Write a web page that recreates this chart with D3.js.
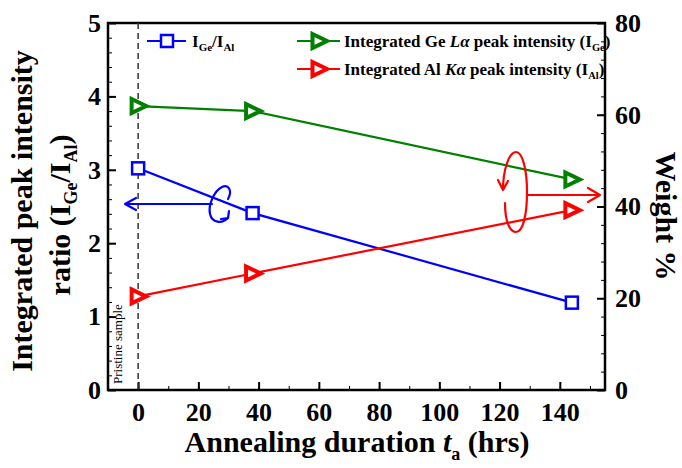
<!DOCTYPE html>
<html>
<head>
<meta charset="utf-8" />
<title>Annealing duration chart</title>
<style>
  body { margin: 0; background: white; }
  svg text { font-family: "Liberation Serif", "Times New Roman", serif; }
  .tick text { font-weight: bold; font-size: 26px; }
  .axis path, .axis line { stroke: black; }
</style>
</head>
<body>
<svg id="chart" width="682" height="468"></svg>
<script src="https://d3js.org/d3.v7.min.js"></script>
<script>
  // values
  const hours = [0, 38, 144];
  const ratioGeAl = [3.02, 2.41, 1.19];
  const geWeight = [61.9, 60.8, 45.9];
  const alWeight = [20.4, 25.4, 39.2];

  const xTicks = [0, 20, 40, 60, 80, 100, 120, 140];
  const leftTicks = [0, 1, 2, 3, 4, 5];
  const rightTicks = [0, 20, 40, 60, 80];

  const blue = "#0000ff", green = "#008000", red = "#ff0000";

  const svg = d3.select("#chart");
  const pLeft = 108, pRight = 605, pTop = 23, pBottom = 390;

  const x = d3.scaleLinear().domain([-10, 155]).range([pLeft, pRight]);
  const yL = d3.scaleLinear().domain([0, 5]).range([pBottom, pTop]);
  const yR = d3.scaleLinear().domain([0, 80]).range([pBottom, pTop]);

  // minor ticks first, no labels
  svg.append("g").attr("class", "axis").attr("transform", `translate(0,${pBottom})`)
    .call(d3.axisBottom(x).tickValues(d3.range(-10, 156, 10)).tickSize(-4).tickFormat(""))
    .call(g => g.select(".domain").remove());
  svg.append("g").attr("class", "axis").attr("transform", `translate(${pLeft},0)`)
    .call(d3.axisLeft(yL).tickValues(d3.range(0, 5.01, 0.2)).tickSize(-4).tickFormat(""))
    .call(g => g.select(".domain").remove());
  svg.append("g").attr("class", "axis").attr("transform", `translate(${pRight},0)`)
    .call(d3.axisRight(yR).tickValues(d3.range(0, 80.1, 4)).tickSize(-4).tickFormat(""))
    .call(g => g.select(".domain").remove());

  // major ticks
  svg.append("g").attr("class", "axis").attr("transform", `translate(0,${pBottom})`)
    .call(d3.axisBottom(x).tickValues(xTicks).tickSize(-8).tickPadding(13))
    .call(g => g.select(".domain").remove())
    .selectAll("line").attr("stroke-width", 2);
  svg.append("g").attr("class", "axis").attr("transform", `translate(${pLeft},0)`)
    .call(d3.axisLeft(yL).tickValues(leftTicks).tickSize(-8).tickPadding(7).tickFormat(d3.format("d")))
    .call(g => g.select(".domain").remove())
    .selectAll("line").attr("stroke-width", 2);
  svg.append("g").attr("class", "axis").attr("transform", `translate(${pRight},0)`)
    .call(d3.axisRight(yR).tickValues(rightTicks).tickSize(-8).tickPadding(10))
    .call(g => g.select(".domain").remove())
    .selectAll("line").attr("stroke-width", 2);

  svg.selectAll(".tick text").attr("fill", "black");

  // plot frame
  svg.append("rect")
    .attr("x", pLeft).attr("y", pTop)
    .attr("width", pRight - pLeft).attr("height", pBottom - pTop)
    .attr("fill", "none").attr("stroke", "black").attr("stroke-width", 2.5);

  // dashed line at the pristine sample
  svg.append("line")
    .attr("x1", x(0)).attr("x2", x(0)).attr("y1", pTop).attr("y2", pBottom)
    .attr("stroke", "#333").attr("stroke-width", 1.5).attr("stroke-dasharray", "6,4");

  svg.append("text")
    .attr("transform", `translate(${x(0) - 16},${pBottom - 6}) rotate(-90)`)
    .attr("font-size", 13)
    .text("Pristine sample");

  const triPath = "M-6.5,-7L8,0L-6.5,7Z";

  function drawLine(vals, yScale, color) {
    const pts = hours.map((h, i) => [x(h), yScale(vals[i])]);
    svg.append("path")
      .attr("d", d3.line()(pts))
      .attr("fill", "none").attr("stroke", color).attr("stroke-width", 2.2);
    return pts;
  }

  const bluePts = drawLine(ratioGeAl, yL, blue);
  const greenPts = drawLine(geWeight, yR, green);
  const redPts = drawLine(alWeight, yR, red);

  svg.selectAll(".sq").data(bluePts).join("rect")
    .attr("x", d => d[0] - 6).attr("y", d => d[1] - 6)
    .attr("width", 12).attr("height", 12)
    .attr("fill", "white").attr("stroke", blue).attr("stroke-width", 2.5);

  [[greenPts, green], [redPts, red]].forEach(([pts, c]) => {
    svg.append("g").selectAll("path").data(pts).join("path")
      .attr("transform", d => `translate(${d[0]},${d[1]})`)
      .attr("d", triPath)
      .attr("fill", "white").attr("stroke", c).attr("stroke-width", 4)
      .attr("stroke-linejoin", "miter");
  });

  // legend
  const leg = svg.append("g").attr("font-weight", "bold");
  leg.append("line").attr("x1", 147).attr("x2", 186).attr("y1", 41).attr("y2", 41)
    .attr("stroke", blue).attr("stroke-width", 2.2);
  leg.append("rect").attr("x", 161).attr("y", 35).attr("width", 12).attr("height", 12)
    .attr("fill", "white").attr("stroke", blue).attr("stroke-width", 2.5);
  const lt = leg.append("text").attr("x", 192).attr("y", 47).attr("font-size", 17);
  lt.append("tspan").text("I");
  lt.append("tspan").attr("font-size", 11).attr("dy", 4).text("Ge");
  lt.append("tspan").attr("dy", -4).text("/I");
  lt.append("tspan").attr("font-size", 11).attr("dy", 4).text("Al");

  const legItems = [
    { y: 41, color: green, elem: "Ge", line: "L", sub: "Ge" },
    { y: 69, color: red, elem: "Al", line: "K", sub: "Al" }
  ];
  legItems.forEach(it => {
    leg.append("line").attr("x1", 297).attr("x2", 340).attr("y1", it.y).attr("y2", it.y)
      .attr("stroke", it.color).attr("stroke-width", 2.2);
    leg.append("path").attr("transform", `translate(319,${it.y})`).attr("d", triPath)
      .attr("fill", "white").attr("stroke", it.color).attr("stroke-width", 4);
    const t = leg.append("text").attr("x", 344).attr("y", it.y + 6).attr("font-size", 17);
    t.append("tspan").text(`Integrated ${it.elem} `);
    t.append("tspan").attr("font-style", "italic").text(it.line + "\u03b1");
    t.append("tspan").text(" peak intensity (I");
    t.append("tspan").attr("font-size", 10.5).attr("dy", 4).text(it.sub);
    t.append("tspan").attr("dy", -4).text(")");
  });

  // annotation: blue curl and arrow to the left axis
  const ann = svg.append("g").attr("fill", "none").attr("stroke-width", 2.2)
    .attr("stroke-linecap", "round").attr("stroke-linejoin", "round");
  ann.append("path").attr("stroke", blue).attr("d", "M212,204L125,204M136,198L125,204L136,210");
  ann.append("path").attr("stroke", blue)
    .attr("d", "M228,199C233,190 228,184 222,187C214,191 208,205 210,214C212,223 222,224 228,218M221,219L228,218L229,211");

  // annotation: red loop and arrow to the right axis
  ann.append("path").attr("stroke", red)
    .attr("d", "M505,203C505,222 510,232 516,232C523,232 527,215 527,192C527,168 522,152 516,152C509,152 503,170 503,190M498,180L503,190L508,181");
  ann.append("path").attr("stroke", red).attr("d", "M528,195L600,195M588,188L600,195L588,202");

  // axis titles
  svg.append("text")
    .attr("transform", `translate(32,211) rotate(-90)`)
    .attr("text-anchor", "middle").attr("font-size", 30).attr("font-weight", "bold")
    .text("Integrated peak intensity");
  const lt2 = svg.append("text")
    .attr("transform", `translate(70,215) rotate(-90)`)
    .attr("text-anchor", "middle").attr("font-size", 30).attr("font-weight", "bold");
  lt2.append("tspan").text("ratio (I");
  lt2.append("tspan").attr("font-size", 18).attr("dy", 7).text("Ge");
  lt2.append("tspan").attr("dy", -7).text("/I");
  lt2.append("tspan").attr("font-size", 18).attr("dy", 7).text("Al");
  lt2.append("tspan").attr("dy", -7).text(")");

  svg.append("text")
    .attr("transform", `translate(656,216) rotate(90)`)
    .attr("text-anchor", "middle").attr("font-size", 30).attr("font-weight", "bold")
    .text("Weight %");

  const bt = svg.append("text")
    .attr("x", 357).attr("y", 452)
    .attr("text-anchor", "middle").attr("font-size", 30).attr("font-weight", "bold");
  bt.append("tspan").text("Annealing duration ");
  bt.append("tspan").attr("font-style", "italic").text("t");
  bt.append("tspan").attr("font-size", 18).attr("dy", 8).text("a");
  bt.append("tspan").attr("dy", -8).text(" (hrs)");
</script>
</body>
</html>
